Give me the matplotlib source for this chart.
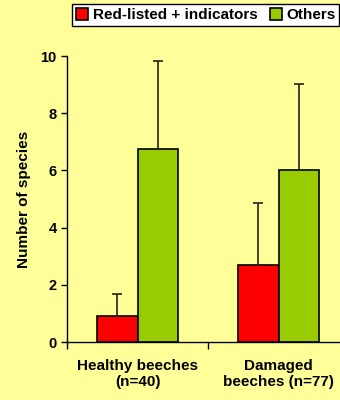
import numpy as np
import matplotlib.pyplot as plt

plt.rc('font', family='Liberation Sans', weight='bold', size=11)
plt.rc('axes', labelweight='bold')

# data
groups = ['Healthy beeches\n(n=40)', 'Damaged\nbeeches (n=77)']
series = ['Red-listed + indicators', 'Others']
red_vals = [0.9, 2.7]
red_err = [0.78, 2.17]
green_vals = [6.75, 6.02]
green_err = [3.08, 2.99]

bg = '#FFFF99'
fig = plt.figure(figsize=(3.4, 4.0), dpi=100, facecolor=bg)
ax = fig.add_axes([67 / 340, 58 / 400, 282 / 340, 286 / 400], facecolor=bg)

x = np.arange(len(groups))
w = 0.29
err_kw = dict(ecolor='#222222', elinewidth=1.2, capsize=3.5, capthick=1.2)
ax.bar(x - w / 2, red_vals, w, color='#FF0000', edgecolor='black', linewidth=1.2,
       yerr=[np.zeros(2), red_err], error_kw=err_kw, label=series[0])
ax.bar(x + w / 2, green_vals, w, color='#99CC00', edgecolor='black', linewidth=1.2,
       yerr=[np.zeros(2), green_err], error_kw=err_kw, label=series[1])

ax.set_xlim(-0.5, 1.5)
ax.set_ylim(0, 10)
ax.set_yticks([0, 2, 4, 6, 8, 10])
ax.set_xticks(x)
ax.set_xticklabels(groups)
ax.set_xticks([-0.5, 0.5, 1.5], minor=True)
ax.tick_params(axis='x', which='major', length=0, pad=12)
ax.tick_params(axis='x', which='minor', length=5, width=1)
ax.tick_params(axis='y', length=4, width=1, labelsize=10.5)
ax.set_ylabel('Number of species', labelpad=7)
for s in ['top', 'right']:
    ax.spines[s].set_visible(False)
for s in ['left', 'bottom']:
    ax.spines[s].set_linewidth(1)

leg = fig.legend(loc='upper left', bbox_to_anchor=(72 / 340, 1 - 4 / 400), ncol=2,
                 fancybox=False, edgecolor='black', facecolor='white', framealpha=1,
                 handlelength=0.8, handleheight=0.8, handletextpad=0.3,
                 columnspacing=0.8, borderpad=0.25, borderaxespad=0)
leg.get_frame().set_linewidth(1)

fig.savefig('out.png', dpi=100, facecolor=bg)
